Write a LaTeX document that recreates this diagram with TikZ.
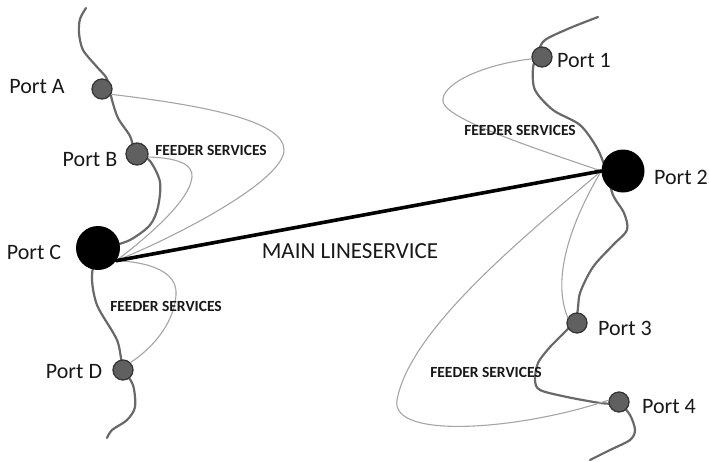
\documentclass[tikz,border=0pt]{standalone}
\usepackage{fontspec}
\setmainfont{Carlito}
\begin{document}
\begin{tikzpicture}[x=1pt,y=-1pt,
  river/.style={draw=riverColor,line width=2.2pt,line join=round,line cap=round},
  feeder/.style={draw=feederColor,line width=1.1pt,line cap=round},
  mainline/.style={draw=black,line width=3.6pt,line cap=round},
  port/.style={circle,fill=portColor,draw=portEdge,line width=1.3pt,minimum size=20pt,inner sep=0pt},
  hub/.style={circle,fill=black,minimum size=44pt,inner sep=0pt},
  portlabel/.style={text=textColor,inner sep=0pt,font=\fontsize{22}{22}\selectfont},
  feederlabel/.style={text=textColor,inner sep=0pt,font=\fontsize{15.5}{15.5}\selectfont\bfseries}]
\definecolor{fillColor}{RGB}{255,255,255}
\definecolor{riverColor}{RGB}{105,105,105}
\definecolor{feederColor}{RGB}{165,165,165}
\definecolor{portColor}{RGB}{96,96,96}
\definecolor{portEdge}{RGB}{55,55,55}
\definecolor{textColor}{RGB}{25,25,25}
\path[use as bounding box,fill=fillColor] (0,0) rectangle (709,461);

\path[river] plot[smooth] coordinates {(86,8) (80,19) (79,33) (83,50) (97,67) (107,79) (112,100)
	(118,118) (130,136) (135,150) (150,161) (160,182) (158,207) (150,225) (130,240) (100,252)
	(92,275) (97,305) (117,340) (123,368) (133,385) (135,407) (127,420) (112,430) (107,438)};

\path[river] plot[smooth] coordinates {(598,17) (570,28) (545,40) (538,52) (533,68) (535,90)
	(553,110) (580,125) (597,148) (606,170) (613,195) (624,213) (627,230) (613,245) (593,267)
	(580,293) (575,320) (550,347) (538,363) (535,380) (540,390) (567,397) (600,403) (620,405)
	(630,415) (635,430) (630,440) (610,450) (590,460)};

\node[port] (portA) at (102,89) {};
\node[port,minimum size=22pt] (portB) at (137,154) {};
\node[hub] (portC) at (98,248) {};
\node[port] (portD) at (123,370) {};
\node[port] (port1) at (542,57) {};
\node[hub,minimum size=43pt] (port2) at (623,171) {};
\node[port] (port3) at (577,323) {};
\node[port] (port4) at (619,402) {};

\path[feeder] (portA.-30) .. controls (200,105) and (284,120) .. (284,150)
	.. controls (284,180) and (180,235) .. (portC.-35);

\path[feeder] (portB.-15) .. controls (180,158) and (193,165) .. (192,177)
	.. controls (190,200) and (150,235) .. (portC.-35);

\path[feeder] (portC.-35) .. controls (150,262) and (178,272) .. (176,295)
	.. controls (174,325) and (150,350) .. (portD.45);

\path[feeder] (port1.190) .. controls (480,65) and (440,85) .. (443,102)
	.. controls (447,120) and (540,150) .. (port2.180);

\path[feeder] (port2.180) .. controls (575,215) and (550,275) .. (port3.150);

\path[feeder] (port2.180) .. controls (520,240) and (410,330) .. (397,400)
	.. controls (390,440) and (520,430) .. (port4.170);

\path[mainline] (portC.-35) -- (port2.180);

\node[portlabel] (labA) at (37,87) {Port A};
\node[portlabel] (labB) at (90,160) {Port B};
\node[portlabel] (labC) at (34,252) {Port C};
\node[portlabel] (labD) at (74,372) {Port D};
\node[portlabel] (lab1) at (584,60) {Port 1};
\node[portlabel] (lab2) at (681,177) {Port 2};
\node[portlabel] (lab3) at (625,328) {Port 3};
\node[portlabel] (lab4) at (669,407) {Port 4};

\node[feederlabel] (feedAB) at (211,150) {FEEDER SERVICES};
\node[feederlabel] (feedCD) at (166,306) {FEEDER SERVICES};
\node[feederlabel] (feed12) at (520,130) {FEEDER SERVICES};
\node[feederlabel] (feed34) at (486,372) {FEEDER SERVICES};

\node[portlabel,font=\fontsize{23}{23}\selectfont] (mainlab) at (350,251) {MAIN LINESERVICE};
\end{tikzpicture}
\end{document}
